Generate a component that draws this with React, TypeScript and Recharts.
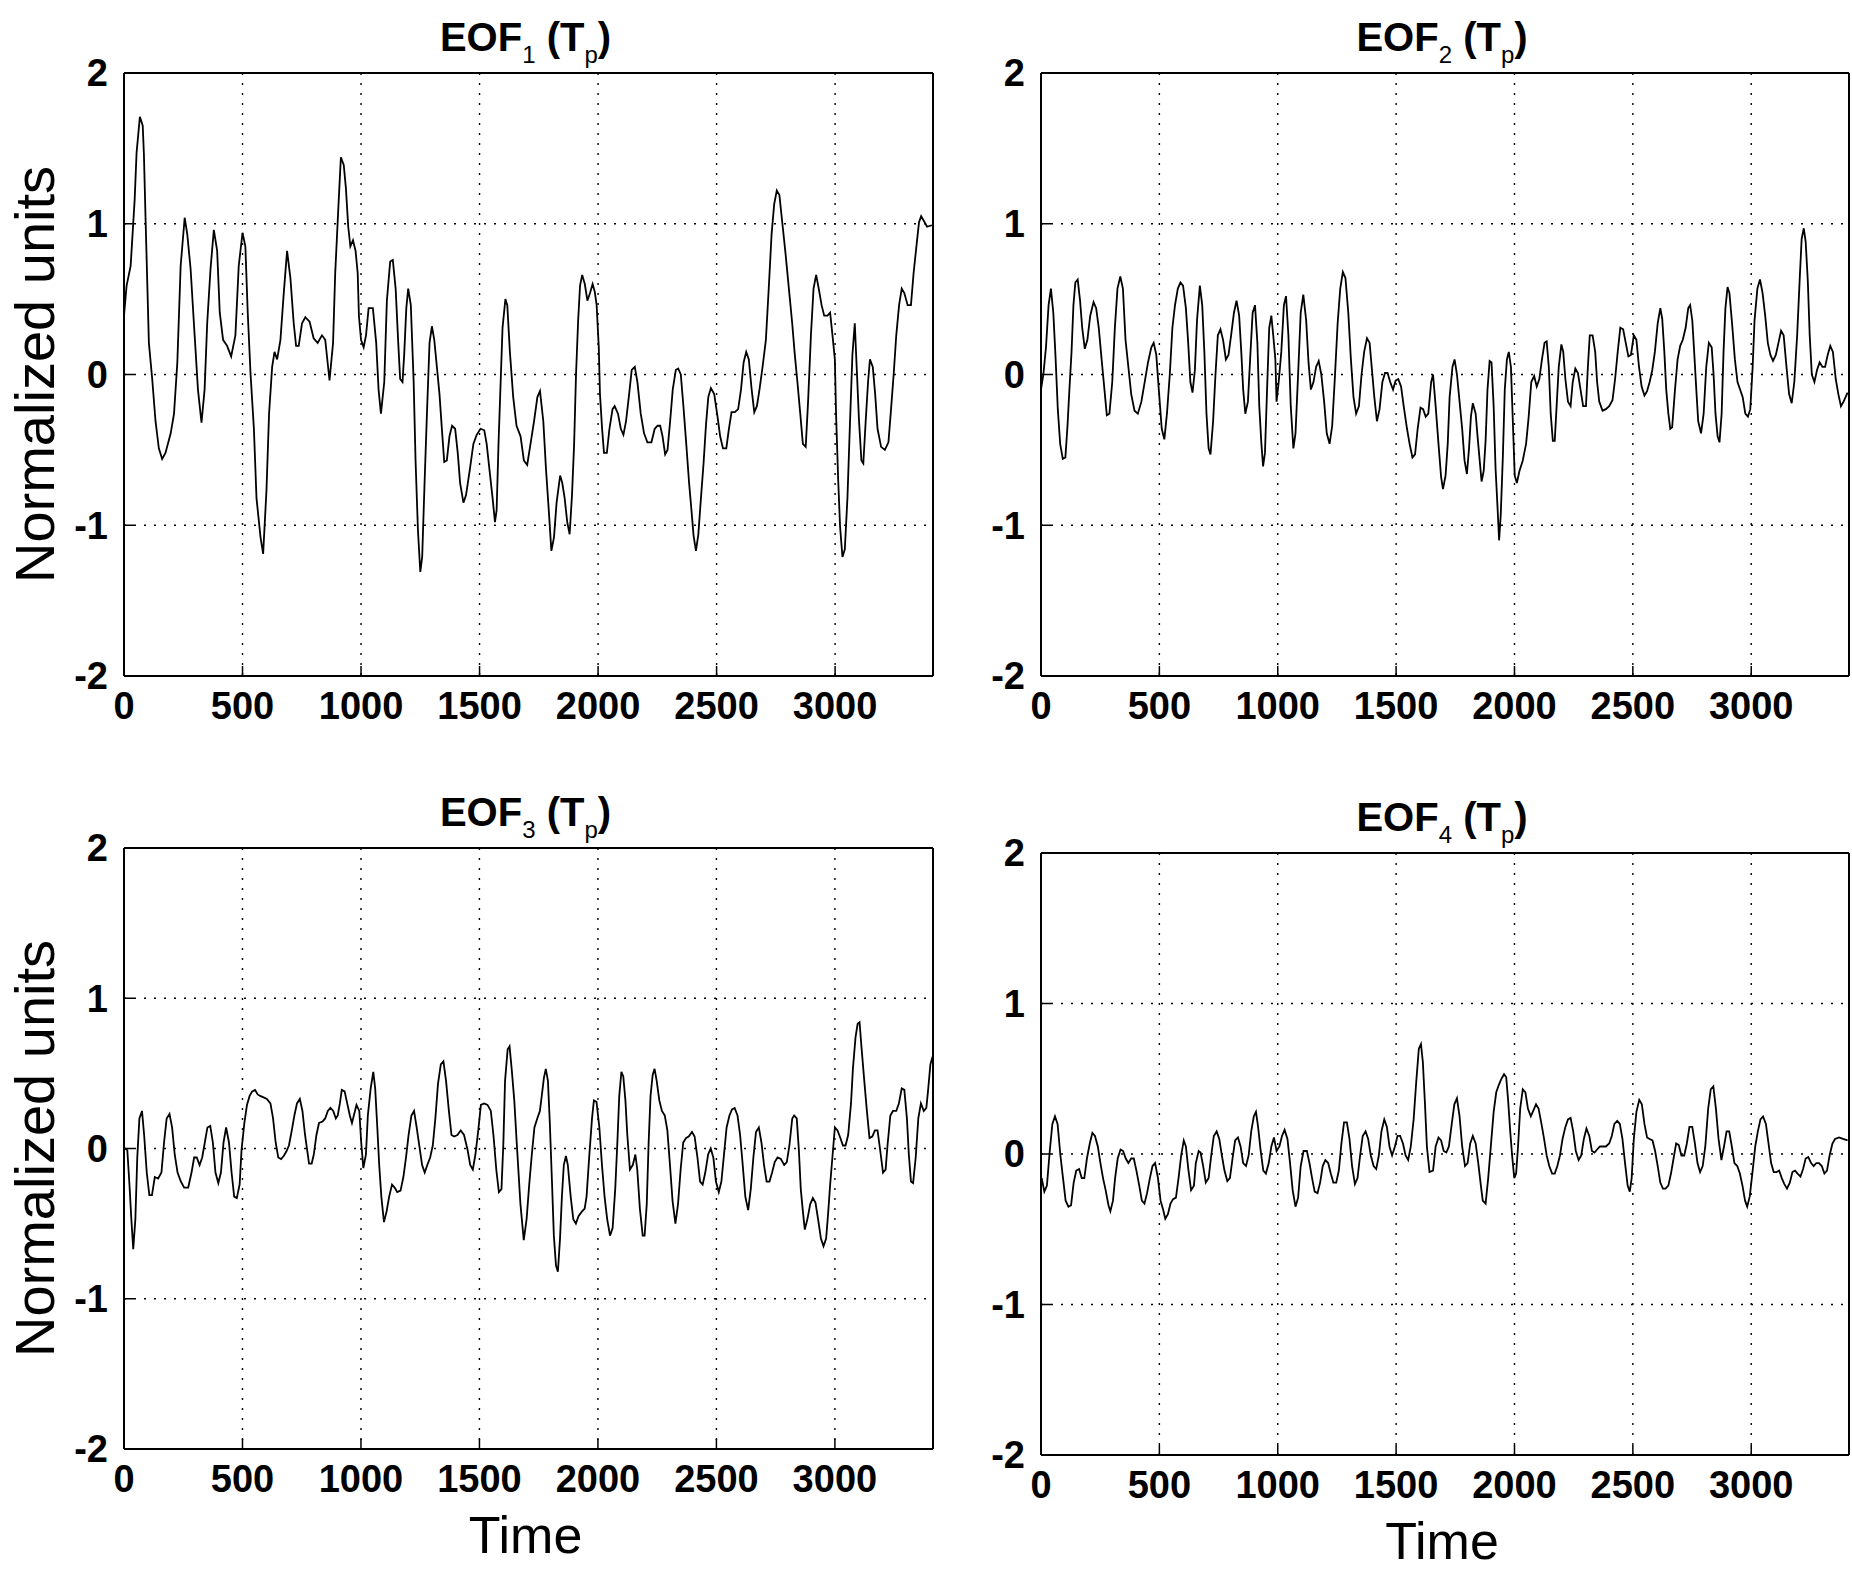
import { FC } from "react";
import { LineChart, Line, XAxis, YAxis, CartesianGrid } from "recharts";

type Pt = [number, number];

// time, normalized value
const eof1: Pt[] = [
  [0, 0.39], [11, 0.59], [28, 0.72], [45, 1.16], [53, 1.47], [67, 1.71], [79, 1.65], [84, 1.46], [91, 1.03], [105, 0.21],
  [119, -0.03], [133, -0.31], [147, -0.49], [161, -0.56], [175, -0.52], [197, -0.39], [211, -0.26], [225, 0.08], [239, 0.72], [256, 1.04],
  [267, 0.93], [281, 0.7], [298, 0.26], [312, -0.1], [327, -0.32], [340, -0.1], [351, 0.34], [365, 0.7], [379, 0.96], [393, 0.82],
  [404, 0.41], [418, 0.23], [435, 0.19], [452, 0.12], [470, 0.26], [484, 0.72], [500, 0.94], [512, 0.85], [522, 0.41], [534, 0],
  [548, -0.36], [559, -0.82], [576, -1.08], [587, -1.19], [601, -0.77], [612, -0.26], [625, 0.05], [635, 0.15], [646, 0.1], [660, 0.23],
  [674, 0.54], [688, 0.82], [702, 0.64], [716, 0.34], [726, 0.19], [737, 0.19], [751, 0.34], [765, 0.38], [783, 0.35], [800, 0.24],
  [817, 0.21], [835, 0.26], [849, 0.23], [867, -0.04], [882, 0.21], [891, 0.67], [905, 1.13], [915, 1.44], [927, 1.39], [936, 1.24],
  [946, 0.98], [955, 0.85], [966, 0.89], [977, 0.82], [986, 0.67], [991, 0.39], [1000, 0.23], [1011, 0.18], [1021, 0.26], [1032, 0.44],
  [1050, 0.44], [1064, 0.21], [1074, -0.1], [1084, -0.26], [1098, -0.05], [1109, 0.49], [1123, 0.75], [1134, 0.76], [1146, 0.57], [1157, 0.21],
  [1165, -0.03], [1175, -0.05], [1182, 0.13], [1191, 0.44], [1199, 0.57], [1210, 0.46], [1222, -0.05], [1230, -0.57], [1240, -1.03], [1250, -1.31],
  [1258, -1.21], [1268, -0.72], [1278, -0.26], [1289, 0.21], [1299, 0.32], [1309, 0.23], [1320, 0.05], [1331, -0.13], [1341, -0.36], [1351, -0.58],
  [1362, -0.57], [1373, -0.41], [1384, -0.34], [1397, -0.36], [1408, -0.52], [1418, -0.72], [1432, -0.85], [1443, -0.8], [1460, -0.62], [1474, -0.46],
  [1488, -0.4], [1504, -0.36], [1520, -0.37], [1530, -0.46], [1541, -0.62], [1555, -0.82], [1565, -0.98], [1572, -0.9], [1580, -0.46], [1589, -0.05],
  [1597, 0.31], [1609, 0.5], [1617, 0.46], [1628, 0.15], [1642, -0.15], [1656, -0.34], [1673, -0.41], [1687, -0.57], [1701, -0.6], [1715, -0.46],
  [1730, -0.31], [1744, -0.15], [1755, -0.11], [1769, -0.31], [1780, -0.62], [1792, -0.9], [1803, -1.17], [1814, -1.08], [1825, -0.85], [1840, -0.67],
  [1849, -0.72], [1859, -0.82], [1870, -0.98], [1880, -1.06], [1890, -0.8], [1899, -0.46], [1907, 0], [1916, 0.36], [1924, 0.59], [1933, 0.66],
  [1944, 0.6], [1955, 0.49], [1966, 0.54], [1977, 0.6], [1986, 0.55], [1994, 0.46], [2003, 0.18], [2008, -0.13], [2017, -0.36], [2025, -0.52],
  [2037, -0.52], [2048, -0.36], [2061, -0.23], [2070, -0.21], [2084, -0.26], [2096, -0.36], [2107, -0.4], [2118, -0.31], [2131, -0.13], [2142, 0.03],
  [2155, 0.05], [2166, -0.05], [2180, -0.26], [2194, -0.39], [2208, -0.45], [2225, -0.45], [2239, -0.36], [2251, -0.34], [2262, -0.34], [2272, -0.41],
  [2283, -0.53], [2293, -0.5], [2304, -0.31], [2315, -0.1], [2328, 0.03], [2338, 0.04], [2349, 0], [2360, -0.21], [2372, -0.46], [2384, -0.72],
  [2394, -0.9], [2403, -1.07], [2413, -1.17], [2423, -1.06], [2434, -0.82], [2445, -0.59], [2455, -0.34], [2465, -0.15], [2476, -0.09], [2490, -0.13],
  [2504, -0.28], [2515, -0.41], [2527, -0.49], [2541, -0.49], [2552, -0.36], [2563, -0.25], [2577, -0.25], [2591, -0.23], [2603, -0.1], [2614, 0.08],
  [2625, 0.15], [2636, 0.1], [2648, -0.1], [2659, -0.25], [2670, -0.21], [2681, -0.1], [2694, 0.05], [2708, 0.23], [2720, 0.57], [2732, 0.93],
  [2743, 1.13], [2754, 1.22], [2765, 1.19], [2777, 1.01], [2791, 0.8], [2805, 0.57], [2819, 0.34], [2830, 0.13], [2841, -0.05], [2853, -0.26],
  [2864, -0.46], [2876, -0.48], [2886, -0.18], [2898, 0.26], [2909, 0.57], [2920, 0.66], [2931, 0.57], [2943, 0.46], [2954, 0.39], [2968, 0.39],
  [2979, 0.41], [2989, 0.26], [2999, 0.1], [3004, -0.26], [3013, -0.7], [3021, -1.01], [3031, -1.21], [3041, -1.16], [3052, -0.82], [3063, -0.31],
  [3073, 0.13], [3083, 0.34], [3091, 0.05], [3101, -0.31], [3111, -0.57], [3119, -0.59], [3129, -0.31], [3139, -0.05], [3147, 0.1], [3159, 0.05],
  [3169, -0.13], [3179, -0.36], [3194, -0.48], [3210, -0.5], [3225, -0.45], [3236, -0.23], [3247, 0], [3258, 0.26], [3270, 0.46], [3281, 0.57],
  [3292, 0.54], [3306, 0.46], [3320, 0.46], [3331, 0.67], [3343, 0.85], [3354, 1.01], [3363, 1.05], [3374, 1.02], [3388, 0.98], [3408, 0.99],
];

const eof2: Pt[] = [
  [0, -0.1], [10, 0], [21, 0.18], [32, 0.46], [42, 0.57], [52, 0.41], [61, 0.13], [71, -0.23], [81, -0.46], [92, -0.56],
  [103, -0.55], [112, -0.34], [120, -0.1], [129, 0.15], [137, 0.46], [145, 0.61], [155, 0.63], [165, 0.49], [174, 0.31], [185, 0.17],
  [196, 0.23], [208, 0.39], [222, 0.48], [233, 0.44], [244, 0.31], [256, 0.1], [268, -0.1], [278, -0.27], [289, -0.26], [301, -0.05],
  [312, 0.31], [323, 0.57], [335, 0.65], [346, 0.57], [357, 0.23], [369, 0.05], [381, -0.13], [395, -0.24], [409, -0.26], [424, -0.18],
  [438, -0.05], [452, 0.08], [466, 0.18], [476, 0.21], [487, 0.13], [499, -0.13], [510, -0.36], [521, -0.43], [532, -0.26], [544, 0],
  [555, 0.31], [566, 0.46], [578, 0.57], [589, 0.61], [600, 0.59], [612, 0.44], [621, 0.23], [631, -0.05], [640, -0.12], [650, 0.03],
  [659, 0.36], [671, 0.59], [681, 0.46], [690, 0.15], [699, -0.26], [708, -0.49], [716, -0.53], [727, -0.31], [737, 0], [747, 0.26],
  [758, 0.3], [769, 0.23], [781, 0.1], [792, 0.13], [803, 0.26], [815, 0.41], [826, 0.49], [837, 0.39], [846, 0.15], [854, -0.1],
  [863, -0.26], [874, -0.18], [885, 0.15], [894, 0.41], [904, 0.46], [914, 0.21], [922, -0.21], [931, -0.46], [938, -0.61], [946, -0.52],
  [956, -0.05], [964, 0.31], [973, 0.39], [981, 0.26], [990, 0.1], [995, -0.18], [1004, -0.05], [1015, 0.15], [1026, 0.46], [1035, 0.52],
  [1045, 0.26], [1055, -0.21], [1066, -0.49], [1075, -0.39], [1086, 0], [1097, 0.41], [1108, 0.53], [1120, 0.36], [1130, 0.08], [1140, -0.1],
  [1151, -0.05], [1162, 0.05], [1173, 0.09], [1184, 0], [1196, -0.18], [1207, -0.39], [1219, -0.46], [1230, -0.34], [1241, -0.03], [1253, 0.34],
  [1264, 0.57], [1275, 0.68], [1286, 0.64], [1298, 0.41], [1309, 0.1], [1320, -0.15], [1331, -0.26], [1343, -0.21], [1354, 0], [1365, 0.15],
  [1377, 0.24], [1388, 0.21], [1398, 0.03], [1408, -0.15], [1419, -0.31], [1430, -0.23], [1442, -0.05], [1453, 0.01], [1464, 0.01], [1475, -0.05],
  [1487, -0.1], [1498, -0.04], [1509, -0.03], [1521, -0.08], [1532, -0.21], [1546, -0.36], [1557, -0.46], [1569, -0.55], [1580, -0.53], [1591, -0.36],
  [1603, -0.22], [1614, -0.23], [1625, -0.28], [1636, -0.26], [1648, -0.05], [1656, 0], [1667, -0.21], [1679, -0.46], [1690, -0.68], [1698, -0.76],
  [1709, -0.67], [1718, -0.46], [1726, -0.15], [1738, 0.05], [1747, 0.1], [1757, 0], [1768, -0.18], [1779, -0.36], [1789, -0.57], [1799, -0.66],
  [1808, -0.49], [1816, -0.28], [1824, -0.19], [1836, -0.26], [1844, -0.41], [1853, -0.57], [1861, -0.71], [1870, -0.64], [1878, -0.44], [1886, -0.1],
  [1895, 0.09], [1903, 0.08], [1912, -0.21], [1920, -0.62], [1929, -0.9], [1935, -1.1], [1942, -0.93], [1951, -0.54], [1959, -0.1], [1968, 0.1],
  [1976, 0.15], [1985, 0.05], [1993, -0.31], [2001, -0.67], [2010, -0.72], [2021, -0.64], [2035, -0.57], [2049, -0.46], [2060, -0.28], [2071, -0.05],
  [2083, -0.01], [2094, -0.08], [2105, -0.03], [2116, 0.1], [2127, 0.21], [2136, 0.22], [2145, 0.05], [2153, -0.26], [2162, -0.44], [2170, -0.44],
  [2178, -0.21], [2187, 0.05], [2198, 0.2], [2206, 0.15], [2215, -0.03], [2226, -0.18], [2237, -0.21], [2246, -0.05], [2257, 0.04], [2268, 0.01],
  [2279, -0.1], [2290, -0.21], [2302, -0.21], [2310, 0.05], [2318, 0.26], [2330, 0.26], [2341, 0.15], [2349, -0.05], [2358, -0.18], [2372, -0.24],
  [2386, -0.23], [2400, -0.21], [2414, -0.17], [2425, -0.03], [2436, 0.15], [2447, 0.31], [2459, 0.3], [2470, 0.21], [2481, 0.12], [2492, 0.13],
  [2504, 0.26], [2515, 0.23], [2526, 0.05], [2537, -0.08], [2549, -0.14], [2560, -0.11], [2571, -0.05], [2582, 0.03], [2593, 0.15], [2605, 0.34],
  [2616, 0.44], [2624, 0.37], [2633, 0.15], [2641, -0.1], [2650, -0.26], [2658, -0.36], [2666, -0.35], [2678, -0.1], [2689, 0.1], [2700, 0.19],
  [2711, 0.23], [2723, 0.31], [2734, 0.44], [2742, 0.46], [2751, 0.36], [2759, 0.15], [2768, -0.1], [2776, -0.31], [2788, -0.39], [2799, -0.26],
  [2810, 0.05], [2821, 0.21], [2833, 0.18], [2841, 0], [2849, -0.26], [2858, -0.41], [2866, -0.45], [2875, -0.26], [2883, 0.15], [2891, 0.44],
  [2900, 0.58], [2908, 0.54], [2919, 0.34], [2931, 0.1], [2942, -0.05], [2953, -0.1], [2964, -0.15], [2975, -0.26], [2986, -0.28], [2996, -0.23],
  [3006, 0.05], [3014, 0.36], [3026, 0.57], [3037, 0.63], [3048, 0.54], [3059, 0.39], [3070, 0.21], [3081, 0.13], [3092, 0.09], [3104, 0.13],
  [3115, 0.21], [3126, 0.29], [3137, 0.26], [3149, 0.05], [3160, -0.13], [3171, -0.19], [3182, -0.05], [3194, 0.26], [3205, 0.64], [3213, 0.9],
  [3222, 0.97], [3230, 0.88], [3239, 0.62], [3247, 0.26], [3256, 0], [3267, -0.05], [3278, 0.03], [3289, 0.08], [3301, 0.05], [3312, 0.05],
  [3323, 0.13], [3334, 0.19], [3345, 0.15], [3357, -0.03], [3368, -0.13], [3379, -0.21], [3390, -0.18], [3407, -0.12],
];

const eof3: Pt[] = [
  [3, 0], [14, -0.01], [23, -0.24], [31, -0.47], [39, -0.67], [48, -0.47], [56, -0.06], [65, 0.2], [76, 0.25], [85, 0.09],
  [96, -0.16], [107, -0.31], [118, -0.31], [130, -0.19], [144, -0.2], [158, -0.16], [169, 0.04], [180, 0.2], [192, 0.23], [203, 0.14],
  [214, -0.04], [226, -0.16], [240, -0.22], [254, -0.26], [271, -0.26], [285, -0.16], [296, -0.06], [307, -0.06], [319, -0.11], [330, -0.06],
  [341, 0.04], [352, 0.14], [364, 0.15], [375, 0.04], [386, -0.16], [398, -0.23], [409, -0.16], [420, 0.04], [431, 0.14], [443, 0.04],
  [454, -0.16], [465, -0.32], [476, -0.33], [488, -0.24], [496, -0.01], [508, 0.17], [519, 0.29], [530, 0.35], [541, 0.38], [553, 0.39],
  [564, 0.36], [575, 0.35], [589, 0.34], [603, 0.33], [618, 0.3], [629, 0.2], [640, 0.04], [651, -0.06], [663, -0.07], [674, -0.05],
  [685, -0.02], [696, 0.02], [708, 0.12], [719, 0.22], [730, 0.3], [742, 0.33], [753, 0.25], [764, 0.09], [773, -0.01], [781, -0.1],
  [792, -0.1], [801, -0.04], [812, 0.09], [823, 0.17], [838, 0.18], [849, 0.2], [860, 0.25], [871, 0.27], [883, 0.25], [894, 0.2],
  [902, 0.22], [911, 0.3], [919, 0.39], [931, 0.38], [942, 0.3], [953, 0.22], [962, 0.17], [970, 0.22], [981, 0.29], [993, 0.25],
  [1001, 0.04], [1010, -0.13], [1021, -0.04], [1029, 0.22], [1041, 0.4], [1052, 0.51], [1060, 0.4], [1069, 0.14], [1077, -0.11], [1086, -0.32],
  [1097, -0.49], [1108, -0.42], [1119, -0.32], [1131, -0.24], [1142, -0.26], [1153, -0.29], [1167, -0.28], [1179, -0.19], [1190, -0.06], [1201, 0.09],
  [1213, 0.22], [1224, 0.25], [1235, 0.14], [1246, 0.02], [1258, -0.11], [1269, -0.16], [1280, -0.11], [1292, -0.06], [1303, 0.02], [1314, 0.2],
  [1325, 0.43], [1337, 0.56], [1348, 0.58], [1359, 0.45], [1371, 0.25], [1382, 0.09], [1393, 0.08], [1407, 0.09], [1421, 0.12], [1435, 0.09],
  [1450, -0.01], [1461, -0.11], [1472, -0.14], [1483, -0.04], [1495, 0.12], [1506, 0.29], [1520, 0.3], [1534, 0.29], [1548, 0.25], [1559, 0.09],
  [1571, -0.14], [1582, -0.29], [1593, -0.27], [1601, 0.04], [1608, 0.45], [1619, 0.66], [1627, 0.68], [1636, 0.53], [1647, 0.32], [1658, 0.02],
  [1673, -0.37], [1687, -0.61], [1699, -0.47], [1710, -0.24], [1721, -0.04], [1732, 0.14], [1744, 0.2], [1755, 0.25], [1763, 0.35], [1772, 0.47],
  [1780, 0.53], [1789, 0.45], [1797, 0.17], [1806, -0.22], [1814, -0.58], [1823, -0.78], [1831, -0.82], [1840, -0.6], [1848, -0.32], [1856, -0.11],
  [1865, -0.05], [1873, -0.11], [1885, -0.32], [1896, -0.47], [1907, -0.5], [1918, -0.45], [1932, -0.42], [1944, -0.4], [1952, -0.32], [1963, -0.06],
  [1975, 0.2], [1983, 0.32], [1994, 0.31], [2006, 0.14], [2017, -0.11], [2028, -0.32], [2039, -0.47], [2051, -0.58], [2062, -0.53], [2073, -0.27],
  [2082, 0.04], [2090, 0.35], [2099, 0.51], [2107, 0.48], [2116, 0.32], [2124, 0.09], [2135, -0.14], [2147, -0.11], [2158, -0.04], [2166, -0.14],
  [2177, -0.4], [2189, -0.58], [2197, -0.58], [2206, -0.37], [2214, 0.04], [2222, 0.35], [2231, 0.49], [2239, 0.53], [2248, 0.45], [2259, 0.32],
  [2270, 0.25], [2282, 0.22], [2293, 0.12], [2304, -0.11], [2315, -0.35], [2327, -0.5], [2338, -0.37], [2349, -0.14], [2360, 0.04], [2372, 0.07],
  [2383, 0.08], [2397, 0.11], [2408, 0.08], [2420, -0.06], [2431, -0.22], [2442, -0.24], [2453, -0.16], [2465, -0.04], [2476, 0], [2487, -0.06],
  [2498, -0.22], [2510, -0.29], [2521, -0.22], [2532, -0.04], [2543, 0.14], [2555, 0.22], [2566, 0.26], [2577, 0.27], [2589, 0.22], [2600, 0.09],
  [2611, -0.11], [2622, -0.32], [2634, -0.41], [2645, -0.27], [2656, -0.06], [2667, 0.11], [2679, 0.14], [2690, 0.04], [2701, -0.11], [2712, -0.22],
  [2724, -0.22], [2735, -0.16], [2746, -0.09], [2758, -0.06], [2772, -0.07], [2786, -0.11], [2797, -0.09], [2808, 0.02], [2820, 0.2], [2828, 0.22],
  [2839, 0.2], [2848, -0.01], [2856, -0.27], [2865, -0.42], [2873, -0.54], [2884, -0.47], [2896, -0.37], [2907, -0.33], [2918, -0.36], [2929, -0.47],
  [2941, -0.6], [2952, -0.65], [2963, -0.6], [2972, -0.42], [2980, -0.24], [2992, -0.01], [3000, 0.14], [3011, 0.12], [3023, 0.07], [3034, 0.02],
  [3045, 0.02], [3056, 0.09], [3068, 0.3], [3076, 0.53], [3087, 0.74], [3096, 0.83], [3104, 0.84], [3113, 0.66], [3124, 0.45], [3135, 0.25],
  [3146, 0.07], [3158, 0.08], [3169, 0.12], [3180, 0.12], [3191, -0.01], [3203, -0.16], [3214, -0.14], [3222, 0.02], [3234, 0.22], [3245, 0.25],
  [3259, 0.25], [3270, 0.3], [3282, 0.4], [3293, 0.39], [3304, 0.2], [3312, -0.04], [3321, -0.22], [3330, -0.23], [3341, -0.06], [3352, 0.2],
  [3363, 0.3], [3375, 0.25], [3386, 0.27], [3394, 0.4], [3403, 0.56], [3414, 0.62],
];

const eof4: Pt[] = [
  [3, -0.16], [14, -0.25], [25, -0.21], [37, 0.02], [48, 0.2], [59, 0.25], [70, 0.2], [82, -0.01], [93, -0.16], [104, -0.31],
  [116, -0.35], [127, -0.34], [138, -0.19], [149, -0.11], [161, -0.1], [172, -0.16], [183, -0.16], [194, -0.03], [206, 0.07], [217, 0.14],
  [228, 0.12], [240, 0.05], [251, -0.06], [262, -0.16], [273, -0.24], [285, -0.34], [293, -0.38], [304, -0.31], [313, -0.16], [324, -0.03],
  [336, 0.03], [347, 0.02], [358, -0.03], [369, -0.06], [381, -0.03], [392, -0.03], [403, -0.11], [415, -0.21], [426, -0.31], [437, -0.33],
  [448, -0.26], [460, -0.16], [471, -0.08], [482, -0.06], [494, -0.16], [505, -0.31], [516, -0.37], [525, -0.43], [536, -0.4], [547, -0.33],
  [558, -0.3], [570, -0.29], [581, -0.16], [592, -0.01], [603, 0.09], [612, 0.05], [623, -0.11], [634, -0.24], [646, -0.21], [654, -0.06],
  [666, 0.02], [674, 0.01], [685, -0.08], [696, -0.19], [708, -0.16], [719, -0.01], [730, 0.12], [742, 0.15], [753, 0.1], [764, -0.01],
  [775, -0.11], [787, -0.18], [798, -0.16], [809, -0.03], [820, 0.09], [832, 0.11], [843, 0.05], [854, -0.06], [866, -0.08], [877, -0.01],
  [888, 0.15], [899, 0.25], [908, 0.28], [917, 0.18], [928, 0.02], [939, -0.11], [950, -0.13], [962, -0.06], [973, 0.05], [984, 0.11],
  [995, 0.02], [1007, 0.05], [1018, 0.12], [1029, 0.16], [1041, 0.1], [1052, -0.06], [1063, -0.24], [1075, -0.35], [1086, -0.29], [1097, -0.08],
  [1109, 0.02], [1123, 0.02], [1134, -0.06], [1145, -0.16], [1156, -0.25], [1168, -0.26], [1179, -0.19], [1190, -0.08], [1201, -0.04], [1213, -0.06],
  [1224, -0.13], [1235, -0.19], [1247, -0.19], [1258, -0.11], [1269, 0.07], [1280, 0.21], [1292, 0.21], [1303, 0.1], [1314, -0.08], [1326, -0.2],
  [1337, -0.16], [1348, -0.01], [1359, 0.12], [1371, 0.15], [1382, 0.1], [1393, -0.01], [1405, -0.08], [1416, -0.1], [1427, -0.01], [1438, 0.15],
  [1450, 0.23], [1461, 0.18], [1472, 0.05], [1483, -0.01], [1495, 0.05], [1506, 0.12], [1517, 0.12], [1529, 0.07], [1540, -0.01], [1551, -0.04],
  [1562, 0.05], [1574, 0.23], [1585, 0.48], [1596, 0.7], [1605, 0.73], [1613, 0.61], [1622, 0.33], [1630, 0.05], [1641, -0.12], [1656, -0.11],
  [1667, 0.05], [1679, 0.11], [1690, 0.09], [1701, 0.02], [1712, 0.01], [1723, 0.05], [1735, 0.2], [1746, 0.33], [1757, 0.37], [1768, 0.25],
  [1779, 0.05], [1791, -0.08], [1802, -0.06], [1813, 0.07], [1824, 0.12], [1836, 0.07], [1847, -0.06], [1858, -0.21], [1866, -0.31], [1878, -0.33],
  [1889, -0.16], [1900, 0.05], [1912, 0.28], [1923, 0.41], [1934, 0.46], [1945, 0.5], [1956, 0.53], [1965, 0.51], [1973, 0.36], [1982, 0.15],
  [1990, -0.01], [1999, -0.16], [2007, -0.13], [2015, 0.05], [2024, 0.3], [2035, 0.43], [2046, 0.41], [2057, 0.3], [2069, 0.25], [2080, 0.29],
  [2091, 0.33], [2102, 0.3], [2114, 0.2], [2125, 0.1], [2136, -0.01], [2147, -0.08], [2159, -0.13], [2170, -0.13], [2181, -0.08], [2192, -0.01],
  [2203, 0.1], [2215, 0.18], [2226, 0.23], [2237, 0.24], [2248, 0.15], [2259, 0.02], [2271, -0.04], [2282, -0.01], [2293, 0.1], [2304, 0.17],
  [2316, 0.12], [2327, 0.02], [2338, 0.01], [2349, 0.03], [2361, 0.05], [2375, 0.05], [2386, 0.05], [2400, 0.07], [2411, 0.12], [2422, 0.2],
  [2434, 0.22], [2445, 0.2], [2456, 0.1], [2467, -0.06], [2478, -0.21], [2487, -0.25], [2495, -0.16], [2504, 0.1], [2515, 0.28], [2527, 0.36],
  [2538, 0.33], [2549, 0.2], [2560, 0.11], [2571, 0.1], [2583, 0.09], [2594, 0.02], [2605, -0.08], [2616, -0.19], [2627, -0.23], [2638, -0.23],
  [2650, -0.21], [2661, -0.13], [2672, -0.03], [2683, 0.07], [2694, 0.06], [2705, -0.01], [2717, -0.01], [2728, 0.07], [2739, 0.18], [2751, 0.18],
  [2762, 0.07], [2773, -0.06], [2784, -0.12], [2795, -0.08], [2806, 0.05], [2818, 0.3], [2829, 0.43], [2840, 0.45], [2851, 0.3], [2862, 0.1],
  [2874, -0.04], [2885, 0.05], [2896, 0.15], [2907, 0.15], [2918, 0.05], [2929, -0.06], [2941, -0.08], [2952, -0.13], [2963, -0.21], [2974, -0.31],
  [2983, -0.35], [2994, -0.28], [3006, -0.11], [3017, 0.05], [3028, 0.15], [3039, 0.23], [3050, 0.25], [3062, 0.2], [3073, 0.07], [3084, -0.06],
  [3095, -0.12], [3107, -0.12], [3118, -0.11], [3129, -0.16], [3140, -0.2], [3151, -0.23], [3163, -0.19], [3174, -0.12], [3185, -0.11], [3196, -0.13],
  [3208, -0.15], [3219, -0.1], [3230, -0.03], [3241, -0.02], [3253, -0.06], [3264, -0.08], [3275, -0.06], [3286, -0.06], [3298, -0.08], [3309, -0.13],
  [3320, -0.11], [3331, -0.01], [3343, 0.07], [3354, 0.1], [3371, 0.11], [3388, 0.1], [3407, 0.09],
];

const timeTicks = [0, 500, 1000, 1500, 2000, 2500, 3000];
const valueTicks = [-2, -1, 0, 1, 2];
const timeMax = 3413;

const FONT = "'Liberation Sans', Arial, Helvetica, sans-serif";

interface PanelProps {
  series: Pt[];
  index: string;
  left: number; // page position of plot area
  top: number;
  plotW: number;
  plotH: number;
  yLabel?: boolean;
  xLabel?: boolean;
}

const Panel: FC<PanelProps> = ({ series, index, left, top, plotW, plotH, yLabel, xLabel }) => {
  const data = series.map(([t, v]) => ({ t, v }));
  const width = plotW + 127;
  const height = plotH + 73 + 118;
  const plotCx = 124 + plotW / 2;
  const plotBottom = 73 + plotH;

  const renderTitle = () => (
    <text x={plotCx - 3} y={51} textAnchor="middle" fontFamily={FONT} fontSize={40} fontWeight="bold" fill="#000">
      EOF
      <tspan fontSize={24} fontWeight="normal" dy={12}>{index}</tspan>
      <tspan dy={-12}> (T</tspan>
      <tspan fontSize={24} fontWeight="normal" dy={12}>p</tspan>
      <tspan dy={-12}>)</tspan>
    </text>
  );

  const renderYLabel = () =>
    yLabel ? (
      <text
        transform={`translate(54,${73 + plotH / 2}) rotate(-90)`}
        textAnchor="middle"
        fontFamily={FONT}
        fontSize={56}
        fill="#000"
      >
        Normalized units
      </text>
    ) : null;

  const renderXLabel = () =>
    xLabel ? (
      <text x={plotCx - 3} y={plotBottom + 104} textAnchor="middle" fontFamily={FONT} fontSize={52} fill="#000">
        Time
      </text>
    ) : null;

  const tickStyle = { fill: "#000", fontSize: 38, fontWeight: 700, fontFamily: FONT };
  const lineStyle = { stroke: "#000", strokeWidth: 2 };
  const tickLineStyle = { stroke: "#000", strokeWidth: 1.5 };

  return (
    <div style={{ position: "absolute", left: left - 124, top: top - 73, width, height }}>
      <LineChart width={width} height={height} data={data} margin={{ top: 72, right: 2, bottom: 58, left: 44 }}>
        <CartesianGrid xAxisId="b" yAxisId="l" stroke="#000" strokeWidth={1.4} strokeDasharray="2 8" />
        <XAxis
          xAxisId="b"
          dataKey="t"
          type="number"
          domain={[0, timeMax]}
          ticks={timeTicks}
          interval={0}
          height={60}
          tickSize={-10}
          tickMargin={26}
          tick={tickStyle}
          tickLine={tickLineStyle}
          axisLine={lineStyle}
          label={renderXLabel}
        />
        <XAxis
          xAxisId="t"
          orientation="top"
          dataKey="t"
          type="number"
          domain={[0, timeMax]}
          ticks={timeTicks}
          interval={0}
          height={1}
          tickSize={-10}
          tick={false}
          tickLine={tickLineStyle}
          axisLine={lineStyle}
          label={renderTitle}
        />
        <YAxis
          yAxisId="l"
          type="number"
          domain={[-2, 2]}
          ticks={valueTicks}
          interval={0}
          width={80}
          tickSize={-10}
          tickMargin={26}
          tick={tickStyle}
          tickLine={tickLineStyle}
          axisLine={lineStyle}
          label={renderYLabel}
        />
        <YAxis
          yAxisId="r"
          orientation="right"
          type="number"
          domain={[-2, 2]}
          ticks={valueTicks}
          interval={0}
          width={1}
          tickSize={-10}
          tick={false}
          tickLine={tickLineStyle}
          axisLine={lineStyle}
        />
        <Line
          xAxisId="b"
          yAxisId="l"
          type="linear"
          dataKey="v"
          stroke="#000"
          strokeWidth={1.8}
          dot={false}
          activeDot={false}
          isAnimationActive={false}
        />
      </LineChart>
    </div>
  );
};

export default function App() {
  return (
    <div style={{ position: "absolute", left: 0, top: 0, width: 1852, height: 1571, overflow: "hidden", background: "#fff" }}>
      <Panel series={eof1} index="1" left={124} top={73} plotW={809} plotH={603} yLabel />
      <Panel series={eof2} index="2" left={1041} top={73} plotW={808} plotH={603} />
      <Panel series={eof3} index="3" left={124} top={848} plotW={809} plotH={601} yLabel xLabel />
      <Panel series={eof4} index="4" left={1041} top={853} plotW={808} plotH={602} xLabel />
    </div>
  );
}
